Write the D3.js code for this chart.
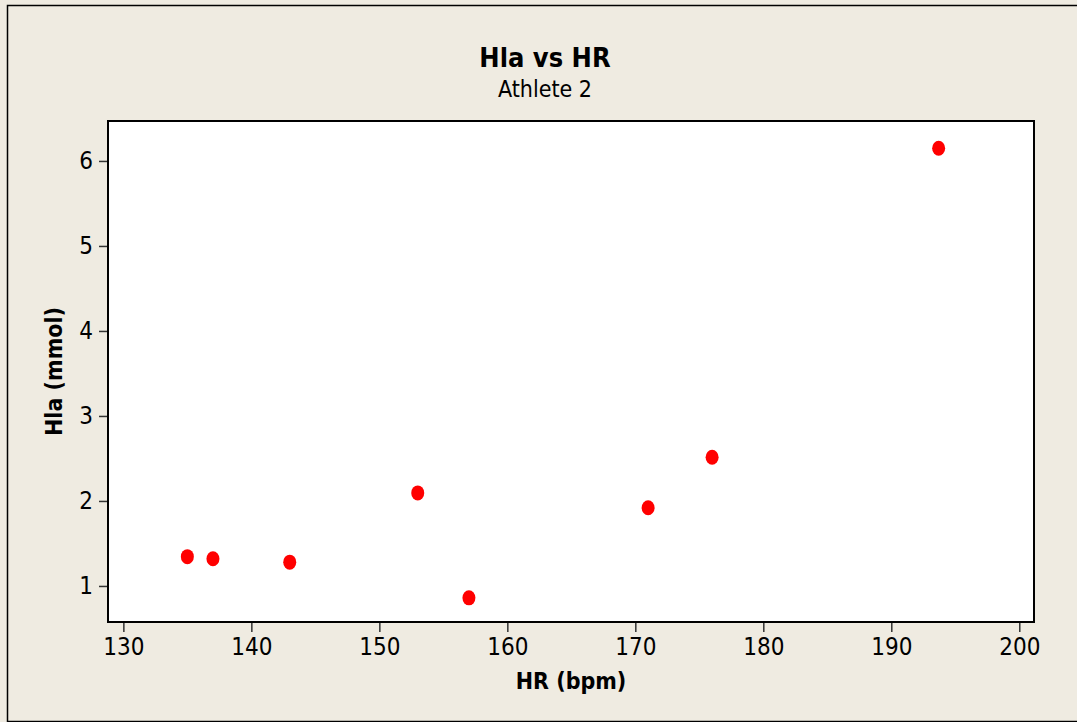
<!DOCTYPE html>
<html>
<head>
<meta charset="utf-8">
<script src="https://cdn.jsdelivr.net/npm/d3@7"></script>
<style>
  html, body { margin: 0; padding: 0; background: #efebe1; }
  svg { display: block; }
  .tick text { font-family: "DejaVu Sans Condensed", "DejaVu Sans", sans-serif; font-size: 24px; fill: #000; }
  .tick line { stroke: #333; stroke-width: 1.5; }
  .domain { display: none; }
</style>
</head>
<body>
<div id="chart"></div>
<script>
// Hla vs HR, athlete 2
const hrValues  = [135, 137, 143, 153, 157, 171, 176, 193.7];
const hlaValues = [1.345, 1.32, 1.28, 2.095, 0.86, 1.92, 2.515, 6.15];
const xTicks = [130, 140, 150, 160, 170, 180, 190, 200];
const yTicks = [1, 2, 3, 4, 5, 6];

const W = 1077, H = 722;
const plot = { left: 108, top: 121, right: 1034, bottom: 622 };
const fontFam = '"DejaVu Sans Condensed", "DejaVu Sans", sans-serif';

const svg = d3.select('#chart')
              .append('svg')
              .attr('width', W)
              .attr('height', H);

// outer frame
svg.append('rect')
   .attr('x', 7.5).attr('y', 5.5)
   .attr('width', 1080).attr('height', 716)
   .attr('fill', '#efebe1')
   .attr('stroke', '#000')
   .attr('stroke-width', 1.5);

const x = d3.scaleLinear().domain([128.8, 201.15]).range([plot.left, plot.right]);
const y = d3.scaleLinear().domain([0.576, 6.47]).range([plot.bottom, plot.top]);

// plot area
svg.append('rect')
   .attr('x', plot.left).attr('y', plot.top)
   .attr('width', plot.right - plot.left)
   .attr('height', plot.bottom - plot.top)
   .attr('fill', '#fff');

svg.append('g')
   .attr('transform', `translate(0,${plot.bottom + 1})`)
   .call(d3.axisBottom(x).tickValues(xTicks).tickFormat(d3.format('d')).tickSize(9).tickPadding(6));

svg.append('g')
   .attr('transform', `translate(${plot.left - 1},0)`)
   .call(d3.axisLeft(y).tickValues(yTicks).tickFormat(d3.format('d')).tickSize(8).tickPadding(6));

svg.append('rect')
   .attr('x', plot.left).attr('y', plot.top)
   .attr('width', plot.right - plot.left)
   .attr('height', plot.bottom - plot.top)
   .attr('fill', 'none')
   .attr('stroke', '#000')
   .attr('stroke-width', 2);

// points
svg.append('g')
   .selectAll('ellipse')
   .data(hrValues)
   .join('ellipse')
   .attr('cx', d => x(d))
   .attr('cy', (d, i) => y(hlaValues[i]))
   .attr('rx', 6.5)
   .attr('ry', 7.5)
   .attr('fill', '#ff0000');

// titles
svg.append('text')
   .attr('x', 545).attr('y', 67)
   .attr('text-anchor', 'middle')
   .attr('font-family', fontFam)
   .attr('font-weight', 'bold')
   .attr('font-size', 27)
   .text('Hla vs HR');

svg.append('text')
   .attr('x', 545).attr('y', 97)
   .attr('text-anchor', 'middle')
   .attr('font-family', fontFam)
   .attr('font-size', 23)
   .text('Athlete 2');

svg.append('text')
   .attr('x', (plot.left + plot.right) / 2).attr('y', 689)
   .attr('text-anchor', 'middle')
   .attr('font-family', fontFam)
   .attr('font-weight', 'bold')
   .attr('font-size', 23)
   .text('HR (bpm)');

svg.append('text')
   .attr('transform', `translate(62,${(plot.top + plot.bottom) / 2}) rotate(-90)`)
   .attr('text-anchor', 'middle')
   .attr('font-family', fontFam)
   .attr('font-weight', 'bold')
   .attr('font-size', 23)
   .text('Hla (mmol)');
</script>
</body>
</html>
